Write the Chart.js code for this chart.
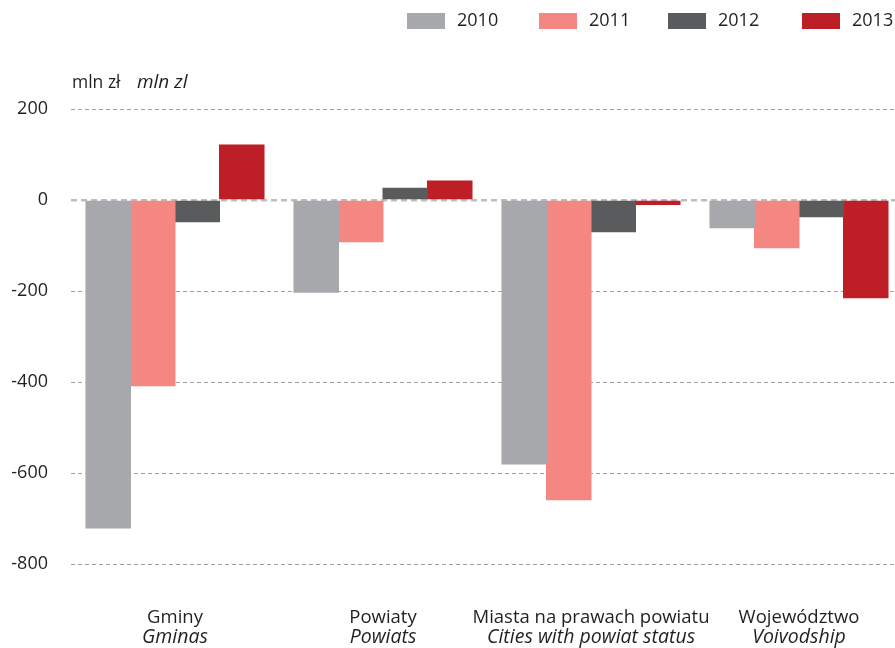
<!DOCTYPE html>
<html>
<head>
<meta charset="utf-8">
<script src="https://cdn.jsdelivr.net/npm/chart.js@4"></script>
<style>
  html, body { margin: 0; padding: 0; background: #fff; overflow: hidden; }
  #wrap { position: relative; width: 903px; height: 648px; }
</style>
</head>
<body>
<div id="wrap"><canvas id="chart"></canvas></div>
<script>
  // Dane
  const categories = ["Gminy", "Powiaty", "Miasta na prawach powiatu", "Województwo"];
  const categoriesEn = ["Gminas", "Powiats", "Cities with powiat status", "Voivodship"];
  const years = ["2010", "2011", "2012", "2013"];
  const v2010 = [-721, -203, -580, -61];
  const v2011 = [-408, -92, -659, -105];
  const v2012 = [-48, 26, -70, -37];
  const v2013 = [121, 42, -10, -215];
  const yTicks = [200, 0, -200, -400, -600, -800];

  const colors = ["#a7a8ac", "#f58782", "#5a5b5d", "#be1e25"];
  const textColor = "#231f20";
  const fontFamily = "'Open Sans', sans-serif";

  // własne etykiety: legenda, tytuł osi, kategorie w dwóch językach
  const extraText = {
    id: "extraText",
    afterDraw(chart) {
      const ctx = chart.ctx;
      const x = chart.scales.x;
      ctx.save();
      ctx.fillStyle = textColor;

      // legenda
      const legendX = [407, 539, 668, 802];
      ctx.font = "18px " + fontFamily;
      ctx.textBaseline = "middle";
      ctx.textAlign = "left";
      chart.data.datasets.forEach((ds, i) => {
        ctx.fillStyle = ds.backgroundColor;
        ctx.fillRect(legendX[i], 13, 38, 16);
        ctx.fillStyle = textColor;
        ctx.fillText(ds.label, legendX[i] + 50, 21);
      });

      // tytuł osi Y
      ctx.textBaseline = "alphabetic";
      ctx.font = "17.5px " + fontFamily;
      ctx.fillText("mln zł", 72, 88);
      ctx.font = "italic 19px " + fontFamily;
      ctx.fillText("mln zl", 137, 88);

      // kategorie
      ctx.textAlign = "center";
      chart.data.labels.forEach((lab, i) => {
        const cx = x.getPixelForValue(i);
        ctx.font = "18.5px " + fontFamily;
        ctx.fillText(lab, cx, 623);
        ctx.font = "italic 19.5px " + fontFamily;
        ctx.fillText(categoriesEn[i], cx, 643);
      });
      ctx.restore();
    }
  };

  new Chart(document.getElementById("chart"), {
    type: "bar",
    data: {
      labels: categories,
      datasets: [
        { label: years[0], data: v2010, backgroundColor: colors[0] },
        { label: years[1], data: v2011, backgroundColor: colors[1] },
        { label: years[2], data: v2012, backgroundColor: colors[2] },
        { label: years[3], data: v2013, backgroundColor: colors[3] }
      ]
    },
    options: {
      responsive: true,
      maintainAspectRatio: false,
      animation: false,
      layout: { padding: { top: 109, bottom: 84, left: 0, right: 0 } },
      datasets: { bar: { categoryPercentage: 0.856, barPercentage: 1.0, borderWidth: 0, inflateAmount: 0.5 } },
      plugins: { legend: { display: false }, tooltip: { enabled: false } },
      scales: {
        x: { display: false },
        y: {
          min: -800,
          max: 200,
          afterFit(scale) { scale.width = 71; },
          afterBuildTicks(scale) { scale.ticks = yTicks.map(v => ({ value: v })); },
          ticks: {
            padding: 23,
            color: textColor,
            font: { family: fontFamily, size: 18 }
          },
          grid: {
            drawTicks: false,
            color: ctx => ctx.tick && ctx.tick.value === 0 ? "#bdbdbd" : "#a0a0a0",
            lineWidth: ctx => ctx.tick && ctx.tick.value === 0 ? 2.5 : 1
          },
          border: {
            display: false,
            dash: ctx => ctx.tick && ctx.tick.value === 0 ? [6, 4] : [4, 3]
          }
        }
      }
    },
    plugins: [extraText]
  });
</script>
</body>
</html>
